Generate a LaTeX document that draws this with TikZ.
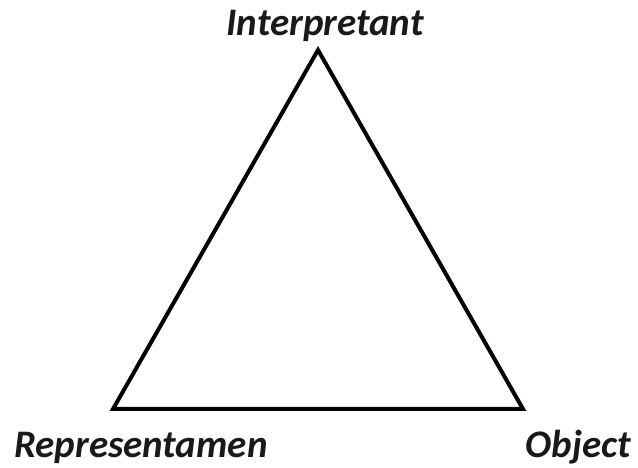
\documentclass[tikz,border=0pt]{standalone}
\usepackage{fontspec}
\setmainfont{Carlito}
\begin{document}
\begin{tikzpicture}[x=1pt,y=1pt,
  lbl/.style={inner sep=0pt, font=\fontsize{39}{44}\selectfont\bfseries\itshape, text=black!90},
  edge/.style={line width=4pt, line join=miter, black}]
\useasboundingbox (0,0) rectangle (638,468);
\coordinate (I) at (318,418);
\coordinate (R) at (113,59);
\coordinate (O) at (523,59);
\draw[edge] (I) -- (R) -- (O) -- cycle;
\node[lbl, anchor=base] (tI) at (325,432) {Interpretant};
\node[lbl, anchor=base west] (tR) at (14,10) {Representamen};
\node[lbl, anchor=base east] (tO) at (631,10) {Object};
\end{tikzpicture}
\end{document}
